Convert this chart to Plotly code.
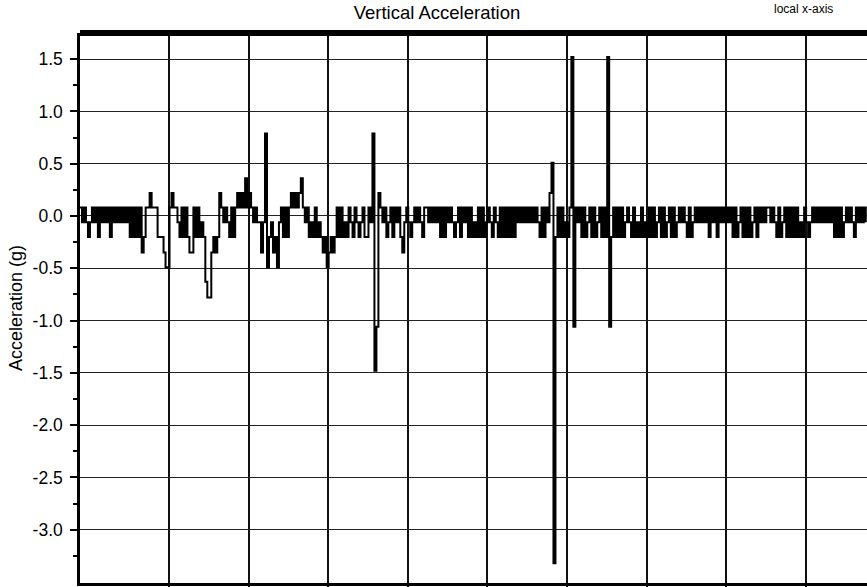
import plotly.graph_objects as go

# ---- data ----
T0 = -1.2          # time of first sample (s)
DT = 0.25          # sample interval (s)

# quantised acceleration levels (g), keyed by the code used in SIGNAL_CODES
LEVEL_CODES = ["e", "d", "c", "b", "a", "+", "-", "1", "2", "3", "4", "5", "6", "7", "8"]
LEVEL_VALUES = [1.52, 0.79, 0.51, 0.36, 0.22, 0.08, -0.06, -0.20, -0.35, -0.49, -0.63, -0.78, -1.06, -1.48, -3.32]

# one code per sample, 10 samples per chunk
SIGNAL_CODES = (
    "+-+-1-+-+1" "+-+-+1+-+-" "+-+-+1+1+1" "+21++a+++1"
    "11233+a++-" "1+1+122+1+" "1-14552121" "a+-+-1+1+a"
    "+a+b+a+-+-" "-2-d31-213" "-+1+1+a+a+" "ab+-+1-1+1"
    "-12132121+" "1+1-1+-1+-" "1-+11+-d76" "a+-+1-+1+-"
    "+12-+-1-+-" "+-1++-+-+-" "+1+1+-+-1-" "+1+-+1+1-1"
    "+1+1-+-1+-" "1+1+1+1+1+" "-+-+-+-+-+" "-1+1+-ac81"
    "+1+1-1+e6+" "-+1+1-+1+1" "-+1+1e61+1" "+1+1-+-1+1"
    "-1+1-1+1+1" "-+1+1-+1+1" "-+-+-1+1-+" "-+-+-+1+-+"
    "1+-+-+-+1+" "1-+1+1+1-+" "1+-+-++-+-" "1+1-+1+1+1"
    "+1-1+-1-+-" "+-+-+-+-+1" "+1+1-+-+-1" "+-+-+-"
)

Y_TICK_VALUES = [1.5, 1.0, 0.5, 0.0, -0.5, -1.0, -1.5, -2.0, -2.5, -3.0]
Y_TICK_LABELS = ["1.5", "1.0", "0.5", "0.0", "-0.5", "-1.0", "-1.5", "-2.0", "-2.5", "-3.0"]
Y_MINOR_VALUES = [1.25, 0.75, 0.25, -0.25, -0.75, -1.25, -1.75, -2.25, -2.75, -3.25]
X_GRID_VALUES = [10, 20, 30, 40, 50, 60, 70, 80, 90]

TITLE = "Vertical Acceleration"
Y_TITLE = "Acceleration (g)"
CORNER_NOTE = "local x-axis"

# ---- build series ----
level_of = dict(zip(LEVEL_CODES, LEVEL_VALUES))
accel = [level_of[c] for c in SIGNAL_CODES]
time = [T0 + i * DT for i in range(len(accel))]

FONT = "Liberation Sans, Arial, Helvetica, sans-serif"

W, H = 867, 587

fig = go.Figure()
fig.add_trace(go.Scatter(
    x=time, y=accel, mode="lines",
    line=dict(color="black", width=2, shape="hv"),
    showlegend=False, hoverinfo="skip",
))

fig.update_layout(
    width=W, height=H,
    margin=dict(l=80, r=0, t=33, b=4),
    paper_bgcolor="white", plot_bgcolor="white",
    font=dict(family=FONT, color="black", size=17),
    title=dict(text=TITLE, x=437 / W, xref="container", xanchor="center",
               y=1 - 13 / H, yref="container", yanchor="middle",
               font=dict(family=FONT, size=18.5, color="black")),
    showlegend=False,
)

fig.update_xaxes(
    range=[-1.2, 97.7], tickvals=X_GRID_VALUES, showticklabels=False,
    showgrid=True, gridcolor="#111", gridwidth=1.5,
    ticks="outside", ticklen=4, tickcolor="black", tickwidth=1.5,
    showline=True, linecolor="black", linewidth=3,
    zeroline=False,
)

fig.update_yaxes(
    range=[-3.51, 1.75], tickvals=Y_TICK_VALUES, ticktext=Y_TICK_LABELS,
    showgrid=True, gridcolor="#222", gridwidth=1.2,
    ticks="outside", ticklen=7, tickwidth=2, tickcolor="black",
    ticklabelstandoff=4,
    tickfont=dict(family=FONT, size=17.5, color="black"),
    minor=dict(tickvals=Y_MINOR_VALUES, ticks="outside", ticklen=4, tickwidth=2,
               tickcolor="black", showgrid=False),
    showline=True, linecolor="black", linewidth=2.5,
    zeroline=False,
    title=dict(text=Y_TITLE, standoff=6, font=dict(family=FONT, size=18, color="black")),
    automargin=False,
)

# thick frame line along the top of the plot area
fig.add_shape(type="line", xref="paper", yref="paper", x0=0, x1=1, y0=1, y1=1,
              line=dict(color="black", width=6))

fig.add_annotation(text=CORNER_NOTE, xref="paper", yref="paper",
                   x=(803 - 80) / 787, y=1, yshift=24, showarrow=False,
                   xanchor="center", yanchor="middle",
                   font=dict(family=FONT, size=12, color="black"))

# remove the default 8px page margin so the figure fills the window exactly
fig.write_html("out.html",
               config={"displayModeBar": False},
               post_script="document.body.style.margin='0';document.body.style.overflow='hidden';")
